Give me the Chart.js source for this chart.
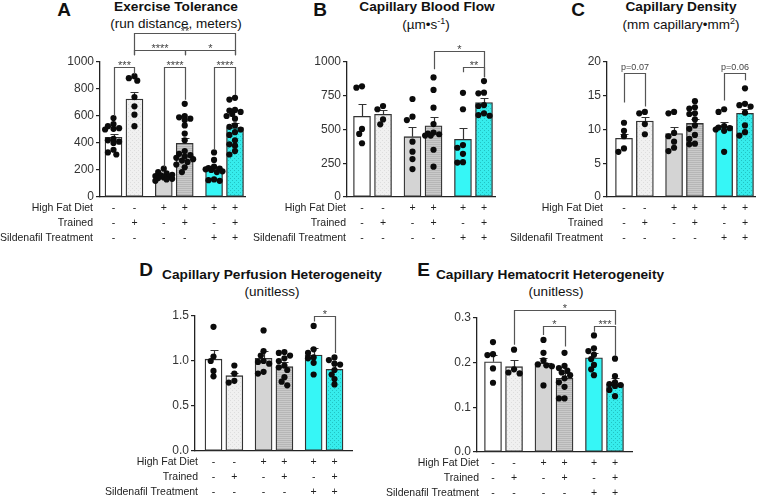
<!DOCTYPE html>
<html><head><meta charset="utf-8">
<script src="https://cdn.jsdelivr.net/npm/chart.js@4.4.1/dist/chart.umd.min.js"></script>
<style>
html,body{margin:0;padding:0;background:#fff;}
body{width:763px;height:498px;position:relative;overflow:hidden;font-family:"Liberation Sans",Arial,sans-serif;color:#111;}
canvas{position:absolute;}
.t{position:absolute;transform:translate(-50%,-50%);white-space:nowrap;line-height:1;}
.tb{font-weight:bold;font-size:13.7px;}
.ts{font-size:13.5px;}
.L{position:absolute;transform:translate(-50%,-50%);font-weight:bold;font-size:19px;line-height:1;}
</style></head><body>
<div class="L" style="left:64px;top:8.5px">A</div>
<div class="t tb" style="left:176px;top:7px">Exercise Tolerance</div>
<div class="t ts" style="left:176px;top:23.5px">(run distance, meters)</div>
<div class="L" style="left:320px;top:8.5px">B</div>
<div class="t tb" style="left:427px;top:7px">Capillary Blood Flow</div>
<div class="t ts" style="left:426px;top:23.5px">(µm•s<sup style="font-size:9px">-1</sup>)</div>
<div class="L" style="left:578px;top:8.5px">C</div>
<div class="t tb" style="left:681px;top:7px">Capillary Density</div>
<div class="t ts" style="left:681px;top:23.5px">(mm capillary•mm<sup style="font-size:9px">2</sup>)</div>
<div class="L" style="left:146px;top:268.5px">D</div>
<div class="t tb" style="left:272px;top:275px">Capillary Perfusion Heterogeneity</div>
<div class="t ts" style="left:272px;top:292px">(unitless)</div>
<div class="L" style="left:423.5px;top:268.5px">E</div>
<div class="t tb" style="left:550px;top:275px">Capillary Hematocrit Heterogeneity</div>
<div class="t ts" style="left:556px;top:292px">(unitless)</div>
<canvas id="cA"></canvas><canvas id="cB"></canvas><canvas id="cC"></canvas><canvas id="cD"></canvas><canvas id="cE"></canvas>
<script>
// ---------- categories ----------
const rowLabels = ['High Fat Diet', 'Trained', 'Sildenafil Treatment'];
const highFatDiet = ['-', '-', '+', '+', '+', '+'];
const trained     = ['-', '+', '-', '+', '-', '+'];
const sildenafil  = ['-', '-', '-', '-', '+', '+'];

// ---------- A: Exercise Tolerance ----------
const exerciseTicks = [0, 200, 400, 600, 800, 1000];
const exerciseMean = [442, 726, 148, 398, 198, 514];
const exerciseSem  = [27, 54, 8, 37, 20, 32];
const exercisePoints = [
  [585, 540, 525, 510, 505, 500, 430, 420, 410, 400, 350, 330, 315],
  [895, 880, 862, 740, 672, 610, 525],
  [210, 185, 175, 165, 160, 155, 150, 145, 140, 135, 130, 120],
  [690, 600, 590, 580, 570, 530, 470, 420, 340, 320, 310, 300, 290, 280, 270, 260, 240, 220, 185],
  [330, 275, 225, 215, 210, 205, 200, 190, 185, 130, 125, 120],
  [735, 722, 645, 640, 630, 615, 600, 580, 530, 520, 500, 480, 460, 420, 390, 380, 340, 315]
];
const exerciseBrackets = [
  {a:0, b:1, y:965, label:'***', ya:600, yb:910},
  {a:2, b:3, y:965, label:'****', ya:225, yb:720},
  {a:4, b:5, y:965, label:'****', ya:350, yb:755},
  {a:1, b:3, y:1089, label:'****', ya:1050, yb:1050},
  {a:3, b:5, y:1089, label:'*', ya:1050, yb:1050},
  {a:1, b:5, y:1215, label:'**', ya:1050, yb:1050}
];

// ---------- B: Capillary Blood Flow ----------
const flowTicks = [0, 250, 500, 750, 1000];
const flowMean = [598, 612, 447, 528, 427, 699];
const flowSem  = [91, 32, 69, 62, 82, 32];
const flowPoints = [
  [820, 810, 504, 467, 398],
  [674, 650, 575, 538],
  [726, 595, 570, 410, 336, 281, 207],
  [886, 793, 662, 540, 477, 470, 465, 455, 455, 350, 225],
  [772, 650, 385, 365, 320, 258, 255],
  [859, 773, 768, 681, 674, 620, 607, 602]
];
const flowBrackets = [
  {a:3, b:5, y:1079, label:'*', ya:946, yb:887},
  {a:4, b:5, y:961, label:'**', ya:924, yb:887}
];

// ---------- C: Capillary Density ----------
const densityTicks = [0, 5, 10, 15, 20];
const densityMean = [8.7, 11.26, 9.4, 10.9, 10.5, 12.4];
const densitySem  = [0.7, 0.64, 0.9, 0.7, 0.65, 0.7];
const densityPoints = [
  [11.0, 9.8, 9.0, 7.2, 6.7],
  [12.6, 12.4, 10.8, 9.3],
  [12.6, 12.4, 9.5, 9.0, 8.2, 7.3, 6.8],
  [14.2, 13.3, 13.1, 12.4, 12.3, 11.5, 10.6, 10.1, 9.2, 8.6, 7.9, 7.8],
  [13.0, 12.6, 10.5, 10.3, 10.2, 10.0, 9.8, 6.7],
  [16.1, 13.8, 13.6, 13.4, 12.5, 10.6, 9.6, 9.1]
];
const densityBrackets = [
  {a:0, b:1, y:18.3, label:'p=0.07', ya:14.0, yb:13.4},
  {a:4, b:5, y:18.3, label:'p=0.06', ya:14.3, yb:17.3}
];

// ---------- D: Capillary Perfusion Heterogeneity ----------
const perfusionTicks = [0, 0.5, 1.0, 1.5];
const perfusionMean = [1.02, 0.837, 1.03, 0.937, 1.067, 0.907];
const perfusionSem  = [0.10, 0.03, 0.08, 0.05, 0.075, 0.067];
const perfusionPoints = [
  [1.38, 1.05, 1.00, 0.89, 0.83],
  [0.95, 0.86, 0.78, 0.76],
  [1.34, 1.11, 1.06, 1.00, 0.99, 0.97, 0.88, 0.86],
  [1.10, 1.09, 1.06, 1.03, 1.00, 0.95, 0.93, 0.90, 0.82, 0.77, 0.73],
  [1.39, 1.13, 1.09, 1.04, 1.03, 0.98, 0.85],
  [1.04, 1.01, 0.97, 0.96, 0.90, 0.85, 0.80, 0.74]
];
const perfusionBrackets = [
  {a:4, b:5, y:1.5, label:'*', ya:1.44, yb:1.09}
];

// ---------- E: Capillary Hematocrit Heterogeneity ----------
const hematocritTicks = [0, 0.1, 0.2, 0.3];
const hematocritMean = [0.202, 0.191, 0.199, 0.165, 0.211, 0.152];
const hematocritSem  = [0.015, 0.015, 0.012, 0.011, 0.011, 0.013];
const hematocritPoints = [
  [0.246, 0.219, 0.217, 0.187, 0.155],
  [0.229, 0.185, 0.178, 0.176],
  [0.251, 0.222, 0.205, 0.196, 0.194, 0.192, 0.149],
  [0.222, 0.193, 0.188, 0.182, 0.178, 0.172, 0.165, 0.156, 0.146, 0.120, 0.120],
  [0.261, 0.232, 0.226, 0.218, 0.208, 0.195, 0.185, 0.172],
  [0.209, 0.170, 0.156, 0.152, 0.150, 0.148, 0.139, 0.125]
];
const hematocritBrackets = [
  {a:1, b:5, y:0.319, label:'*', ya:0.24, yb:0.285},
  {a:2, b:3, y:0.282, label:'*', ya:0.262, yb:0.236},
  {a:4, b:5, y:0.282, label:'***', ya:0.269, yb:0.215}
];

// ---------- layout (not data) ----------
const FONT = '"Liberation Sans", Arial, sans-serif';
Chart.defaults.font.family = FONT;
const barPos = [0, 1, 2.4, 3.4, 4.8, 5.8];

function makePattern(bg, fg, type) {
  const c = document.createElement('canvas'); c.width = 4; c.height = 4;
  const g = c.getContext('2d');
  g.fillStyle = bg; g.fillRect(0, 0, 4, 4); g.fillStyle = fg;
  if (type === 'dots') { g.fillRect(0, 0, 1, 1); g.fillRect(2, 2, 1, 1); }
  else { g.fillRect(0, 0, 4, 1); g.fillRect(0, 2, 4, 1); }
  return g.createPattern(c, 'repeat');
}
const fills = [
  '#ffffff',
  makePattern('#f0f0f0', '#dddddd', 'dots'),
  '#d4d4d4',
  makePattern('#cacaca', '#b6b6b6', 'lines'),
  '#36f6f6',
  makePattern('#36ecec', '#22c2c2', 'dots')
];

function swarm(vals, yPx) {
  const order = vals.map((v, i) => i).sort((a, b) => vals[b] - vals[a]);
  const placed = []; const offs = new Array(vals.length).fill(0);
  const cands = [0, -2.8, 2.8, -5.6, 5.6, -8.4, 8.4];
  order.forEach(i => {
    const yy = vals[i] * yPx;
    let best = null, bestD = -1;
    for (const c of cands) {
      const d = placed.length ? Math.min(...placed.map(p => Math.hypot(p.x - c, p.y - yy))) : 99;
      if (d >= 5.0) { best = c; break; }
      if (d > bestD) { bestD = d; best = c; }
    }
    placed.push({x: best, y: yy}); offs[i] = best;
  });
  return offs;
}

function decor(means, sems, brackets, labelGap) {
  return {
    id: 'decor',
    afterDatasetDraw(chart, args) {
      if (args.index !== 0) return;
      const {ctx} = chart; const xs = chart.scales.x, ys = chart.scales.y;
      ctx.save(); ctx.strokeStyle = '#333'; ctx.lineWidth = 1.2;
      means.forEach((m, i) => {
        const px = Math.round(xs.getPixelForValue(barPos[i])) + 0.5;
        const y0 = ys.getPixelForValue(m), y1 = Math.round(ys.getPixelForValue(m + sems[i])) + 0.5;
        ctx.beginPath(); ctx.moveTo(px, y0); ctx.lineTo(px, y1);
        ctx.moveTo(px - 4, y1); ctx.lineTo(px + 4, y1); ctx.stroke();
      });
      ctx.restore();
    },
    afterDraw(chart) {
      const {ctx, chartArea} = chart; const xs = chart.scales.x, ys = chart.scales.y;
      ctx.save();
      ctx.strokeStyle = '#555'; ctx.fillStyle = '#444'; ctx.lineWidth = 1.2;
      ctx.textAlign = 'center'; ctx.textBaseline = 'alphabetic';
      brackets.forEach(br => {
        const xa = Math.round(xs.getPixelForValue(barPos[br.a])) + 0.5;
        const xb = Math.round(xs.getPixelForValue(barPos[br.b])) + 0.5;
        const yl = Math.round(ys.getPixelForValue(br.y)) + 0.5;
        ctx.beginPath();
        ctx.moveTo(xa, ys.getPixelForValue(br.ya)); ctx.lineTo(xa, yl);
        ctx.lineTo(xb, yl); ctx.lineTo(xb, ys.getPixelForValue(br.yb)); ctx.stroke();
        if (br.label[0] === 'p') { ctx.font = '9px ' + FONT; ctx.fillText(br.label, (xa + xb) / 2, yl - 4); }
        else { ctx.font = '11px ' + FONT; ctx.fillText(br.label, (xa + xb) / 2, yl + 1); }
      });
      ctx.fillStyle = '#222'; ctx.font = '10.5px ' + FONT; ctx.textBaseline = 'middle';
      const rows = [highFatDiet, trained, sildenafil];
      rows.forEach((signs, r) => {
        const yy = chartArea.bottom + 11 + r * 15.25;
        ctx.textAlign = 'right'; ctx.fillText(rowLabels[r], chartArea.left - labelGap, yy);
        ctx.textAlign = 'center';
        signs.forEach((s, i) => ctx.fillText(s, xs.getPixelForValue(barPos[i]), yy));
      });
      ctx.restore();
    }
  };
}

function makeChart(id, P, means, sems, points, ticks, brackets, fmt) {
  const cv = document.getElementById(id);
  cv.width = P.w; cv.height = P.h;
  cv.style.left = P.x + 'px'; cv.style.top = P.y + 'px';
  cv.style.width = P.w + 'px'; cv.style.height = P.h + 'px';
  const unit = (P.c6 - P.c1) / (barPos[5] - barPos[0]);
  const xMin = barPos[0] - (P.c1 - P.l) / unit;
  const xMax = barPos[5] + (P.r - P.c6) / unit;
  const yMin = ticks[0], yMax = ticks[ticks.length - 1];
  const yPx = (P.b - P.t) / (yMax - yMin);
  const scatter = [];
  points.forEach((vals, i) => {
    const offs = swarm(vals, yPx);
    vals.forEach((v, j) => scatter.push({x: barPos[i] + offs[j] / unit, y: v}));
  });
  new Chart(cv, {
    type: 'bar',
    data: {datasets: [
      {type: 'bar', data: means.map((m, i) => ({x: barPos[i], y: m})), backgroundColor: fills,
       borderColor: '#333', borderWidth: 1.3, borderSkipped: false, barThickness: 17, order: 2},
      {type: 'scatter', data: scatter, pointRadius: 3.1, pointBackgroundColor: '#0b0b0b',
       pointBorderWidth: 0, order: 1}
    ]},
    options: {
      responsive: false, animation: false, events: [],
      layout: {padding: {left: 0, top: P.t - P.y, right: P.x + P.w - P.r, bottom: 0}},
      plugins: {legend: {display: false}, tooltip: {enabled: false}},
      scales: {
        x: {type: 'linear', min: xMin, max: xMax, offset: false,
            grid: {display: false}, ticks: {display: false},
            border: {display: true, color: '#222', width: 1.3},
            afterFit: s => { s.height = P.y + P.h - P.b; }},
        y: {type: 'linear', min: yMin, max: yMax,
            afterBuildTicks: s => { s.ticks = ticks.map(v => ({value: v})); },
            ticks: {callback: fmt, font: {size: 12, family: FONT}, color: '#333', padding: 2},
            grid: {display: true, drawOnChartArea: false, drawTicks: true, tickLength: 4, color: '#222', lineWidth: 1.2},
            border: {display: true, color: '#222', width: 1.3},
            afterFit: s => { s.width = P.l - P.x; }}
      }
    },
    plugins: [decor(means, sems, brackets, P.gap)]
  });
}

const intFmt = v => String(v);
const oneDec = v => Number(v).toFixed(1);
makeChart('cA', {x: 0, y: 0, w: 250, h: 250, l: 100, r: 245, t: 62, b: 197, c1: 113.5, c6: 235, gap: 7},
  exerciseMean, exerciseSem, exercisePoints, exerciseTicks, exerciseBrackets, intFmt);
makeChart('cB', {x: 250, y: 0, w: 255, h: 250, l: 347, r: 495, t: 62, b: 197, c1: 362, c6: 484, gap: 1},
  flowMean, flowSem, flowPoints, flowTicks, flowBrackets, intFmt);
makeChart('cC', {x: 505, y: 0, w: 258, h: 250, l: 607, r: 755, t: 62, b: 197, c1: 624, c6: 745, gap: 4},
  densityMean, densitySem, densityPoints, densityTicks, densityBrackets, intFmt);
makeChart('cD', {x: 100, y: 250, w: 260, h: 248, l: 195, r: 352, t: 316, b: 451, c1: 213.5, c6: 334.5, gap: -3},
  perfusionMean, perfusionSem, perfusionPoints, perfusionTicks, perfusionBrackets, oneDec);
makeChart('cE', {x: 375, y: 250, w: 270, h: 248, l: 477, r: 632, t: 318, b: 452, c1: 493, c6: 615, gap: -2},
  hematocritMean, hematocritSem, hematocritPoints, hematocritTicks, hematocritBrackets, oneDec);
</script>
</body></html>
